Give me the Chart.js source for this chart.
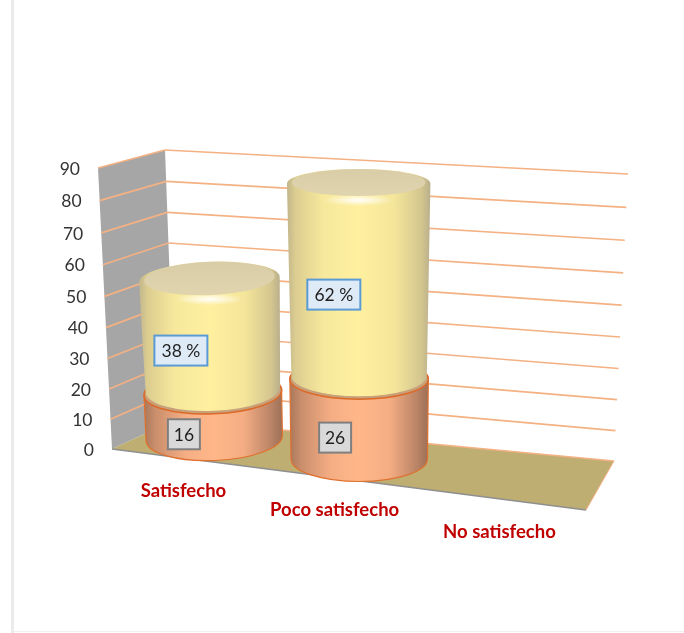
<!DOCTYPE html>
<html>
<head>
<meta charset="utf-8">
<style>
    html, body { margin: 0; padding: 0; background: #fff; }
    #wrap { position: relative; width: 684px; height: 633px; overflow: hidden; }
    #frameLeft { position: absolute; left: 11px; top: 0; width: 3px; height: 633px; background: #ebebeb; }
    #frameBottom { position: absolute; left: 14px; top: 631px; width: 670px; height: 1px; background: #efefef; }
</style>
</head>
<body>
<div id="wrap">
    <canvas id="chart" width="684" height="633"></canvas>
    <div id="frameLeft"></div>
    <div id="frameBottom"></div>
</div>
<script src="https://cdn.jsdelivr.net/npm/chart.js@4"></script>
<script>
const categories = ['Satisfecho', 'Poco satisfecho', 'No satisfecho'];
const lowerValues = [16, 26, 0];
const upperValues = [38, 62, 0];
const lowerLabels = ['16', '26', ''];
const upperLabels = ['38 %', '62 %', ''];
const yMax = 90;
const yStep = 10;

// corners of the 3d box in pixels (front/back, bottom/top, left/right)
const box = {
    fbl: [112, 449], fbr: [586, 510], bbl: [175, 420], bbr: [614, 461],
    ftl: [98, 168], ftr: [596, 212], btl: [165, 150], btr: [628, 174]
};

function mix(a, b, k) {
    return [a[0] + (b[0] - a[0]) * k, a[1] + (b[1] - a[1]) * k];
}

// categories bunch up slightly towards the left of the floor
function warpU(u) {
    return u - 0.13 * u * (1 - u);
}

// u across the floor, t up the value axis, d from the front (0) to the back (1)
function project(u, t, d) {
    const tw = t - 0.05 * t * (1 - t);
    const front = mix(mix(box.fbl, box.fbr, u), mix(box.ftl, box.ftr, u), tw);
    const back = mix(mix(box.bbl, box.bbr, u), mix(box.btl, box.btr, u), tw);
    const p = mix(front, back, d);
    return { x: p[0], y: p[1] };
}

function polygon(ctx, points, fill) {
    ctx.beginPath();
    points.forEach((p, i) => i ? ctx.lineTo(p.x, p.y) : ctx.moveTo(p.x, p.y));
    ctx.closePath();
    ctx.fillStyle = fill;
    ctx.fill();
}

function line(ctx, a, b, color, width) {
    ctx.beginPath();
    ctx.moveTo(a.x, a.y);
    ctx.lineTo(b.x, b.y);
    ctx.strokeStyle = color;
    ctx.lineWidth = width;
    ctx.stroke();
}

// ellipse of a cylinder at height t
function ring(u, half, t) {
    const l = project(warpU(u) - half, t, 0.55);
    const r = project(warpU(u) + half, t, 0.55);
    const rx = (r.x - l.x) / 2;
    return {
        cx: (l.x + r.x) / 2,
        cy: (l.y + r.y) / 2 + 3.5 * t + (u - 0.33) * 15 * Math.max(0, 1 - 3 * t),
        rx: rx,
        ry: rx * (0.33 - 0.13 * t),
        rot: (u - 0.5) * 0.12
    };
}

function sideGradient(ctx, a, b, stops) {
    const g = ctx.createLinearGradient(Math.min(a.cx - a.rx, b.cx - b.rx), 0, Math.max(a.cx + a.rx, b.cx + b.rx), 0);
    stops.forEach(s => g.addColorStop(s[0], s[1]));
    return g;
}

function cylinderPath(ctx, a, b) {
    ctx.beginPath();
    ctx.ellipse(a.cx, a.cy, a.rx, a.ry, a.rot, Math.PI, 0, true);
    ctx.lineTo(b.cx + b.rx, b.cy);
    ctx.ellipse(b.cx, b.cy, b.rx, b.ry, b.rot, 0, Math.PI, true);
    ctx.closePath();
}

const orangeStops = [[0, '#a9785c'], [0.08, '#c98e6c'], [0.3, '#f5ae84'], [0.5, '#ffb789'], [0.72, '#f4ad83'], [0.92, '#b98366'], [1, '#9c7058']];
const yellowStops = [[0, '#c2b68c'], [0.06, '#dccd90'], [0.25, '#f6e89c'], [0.5, '#fff0a0'], [0.75, '#f4e59a'], [0.94, '#d3c58e'], [1, '#b9ae8c']];

function drawLower(ctx, a, b) {
    cylinderPath(ctx, a, b);
    ctx.fillStyle = sideGradient(ctx, a, b, orangeStops);
    ctx.fill();
    ctx.strokeStyle = '#e0702e';
    ctx.lineWidth = 1.2;
    ctx.stroke();
    ctx.beginPath();
    ctx.ellipse(b.cx, b.cy, b.rx, b.ry, b.rot, 0, Math.PI * 2);
    ctx.fillStyle = '#c8a07a';
    ctx.fill();
    ctx.strokeStyle = '#dc6a28';
    ctx.lineWidth = 1.6;
    ctx.stroke();
}

function drawUpper(ctx, a, b) {
    const base = { cx: a.cx, cy: a.cy - 3, rx: a.rx - 1.5, ry: a.ry, rot: a.rot };
    cylinderPath(ctx, base, b);
    ctx.fillStyle = sideGradient(ctx, base, b, yellowStops);
    ctx.fill();
    // flat top with a bright rounded rim
    ctx.save();
    cylinderPath(ctx, base, b);
    ctx.clip();
    const glow = ctx.createRadialGradient(0, 0, 0, 0, 0, 1);
    glow.addColorStop(0, 'rgba(255,255,255,0.95)');
    glow.addColorStop(1, 'rgba(255,255,255,0)');
    ctx.translate(b.cx, b.cy + b.ry + 2);
    ctx.scale(b.rx * 0.5, 6);
    ctx.fillStyle = glow;
    ctx.beginPath();
    ctx.arc(0, 0, 1, 0, Math.PI * 2);
    ctx.fill();
    ctx.restore();
    ctx.beginPath();
    ctx.ellipse(b.cx, b.cy - 1, b.rx - 5, b.ry - 1, b.rot, 0, Math.PI * 2);
    const top = ctx.createLinearGradient(0, b.cy - b.ry, 0, b.cy + b.ry);
    top.addColorStop(0, '#d9cda8');
    top.addColorStop(1, '#e0d5ae');
    ctx.fillStyle = top;
    ctx.fill();
}

function labelBox(ctx, text, p, w, h, fill, border) {
    ctx.fillStyle = fill;
    ctx.fillRect(p.x - w / 2, p.y - h / 2, w, h);
    ctx.strokeStyle = border;
    ctx.lineWidth = 2;
    ctx.strokeRect(p.x - w / 2, p.y - h / 2, w, h);
    ctx.fillStyle = '#1f1f1f';
    ctx.font = '17.5px Lato';
    ctx.textAlign = 'center';
    ctx.textBaseline = 'middle';
    ctx.fillText(text, p.x, p.y + 1);
}

const box3d = {
    id: 'box3d',
    // walls, floor and grid lines, then the cylinders in place of flat bars
    beforeDatasetsDraw(chart) {
        const ctx = chart.ctx;
        const x = chart.scales.x;
        const y = chart.scales.y;
        const frac = v => (y.bottom - y.getPixelForValue(v)) / y.height;

        ctx.save();
        polygon(ctx, [project(0, 0, 0), project(0, 1, 0), project(0, 1, 1), project(0, 0, 1)], '#a6a6a6');
        polygon(ctx, [project(0, 0, 0), project(1, 0, 0), project(1, 0, 1), project(0, 0, 1)], '#bfae72');
        line(ctx, project(0, 0, 0), project(1, 0, 0), '#8f8f8f', 1.5);
        line(ctx, project(1, 0, 0), project(1, 0, 1), '#f4b183', 1);
        y.ticks.forEach(tick => {
            const t = frac(tick.value);
            if (tick.value > 0) line(ctx, project(0, t, 0), project(0, t, 1), '#f4b183', 1.7);
            line(ctx, project(0, t, 1), project(1, t, 1), '#f4b183', 1.7);
        });

        const lower = chart.getDatasetMeta(0).data;
        categories.forEach((name, i) => {
            if (!lowerValues[i] && !upperValues[i]) return;
            const bar = lower[i];
            const u = (bar.x - x.left) / x.width;
            const half = bar.width / 2 / x.width;
            const a = ring(u, half, frac(0));
            const b = ring(u, half, frac(lowerValues[i]));
            const c = ring(u, half, frac(lowerValues[i] + upperValues[i]));
            drawLower(ctx, a, b);
            drawUpper(ctx, b, c);
        });
        ctx.restore();
        return false;
    },
    // returning false above also skips afterDatasetsDraw, so the text goes here
    afterDraw(chart) {
        const ctx = chart.ctx;
        const x = chart.scales.x;
        const y = chart.scales.y;
        const frac = v => (y.bottom - y.getPixelForValue(v)) / y.height;

        ctx.save();
        categories.forEach((name, i) => {
            const u = warpU((x.getPixelForValue(i) - x.left) / x.width);
            if (lowerValues[i]) {
                const low = project(u, frac(lowerValues[i] / 2), 0.04);
                low.y += 1.5;
                labelBox(ctx, lowerLabels[i], low, 32, 30, '#d9d9d9', '#7f7f7f');
                const high = project(u, frac(lowerValues[i] + upperValues[i] / 2), 0.04);
                high.y += lowerValues[i] > 20 ? -2 : 0.5;
                labelBox(ctx, upperLabels[i], high, 53, 30, '#deeaf6', '#5b9bd5');
            }
            const floor = project(u, 0, 0);
            ctx.fillStyle = '#c00000';
            ctx.font = 'bold 18.5px Lato';
            ctx.textAlign = 'center';
            ctx.textBaseline = 'middle';
            ctx.fillText(name, floor.x + 1, floor.y + 33);
        });
        y.ticks.forEach(tick => {
            const p = project(0, frac(tick.value), 0);
            ctx.fillStyle = '#333333';
            ctx.font = '17.5px Lato';
            ctx.textAlign = 'right';
            ctx.textBaseline = 'middle';
            ctx.fillText(String(tick.value), p.x - 18, p.y + 1);
        });
        ctx.restore();
    }
};

new Chart(document.getElementById('chart').getContext('2d'), {
    type: 'bar',
    data: {
        labels: categories,
        datasets: [
            { label: 'Bajo', data: lowerValues, backgroundColor: '#f4b183' },
            { label: 'Alto', data: upperValues, backgroundColor: '#ffe699' }
        ]
    },
    options: {
        responsive: false,
        animation: false,
        barPercentage: 0.9,
        categoryPercentage: 1,
        layout: { padding: 0 },
        plugins: {
            legend: { display: false },
            tooltip: { enabled: false }
        },
        scales: {
            x: { display: false, stacked: true },
            y: { display: false, stacked: true, min: 0, max: yMax, ticks: { stepSize: yStep } }
        }
    },
    plugins: [box3d]
});
</script>
</body>
</html>
